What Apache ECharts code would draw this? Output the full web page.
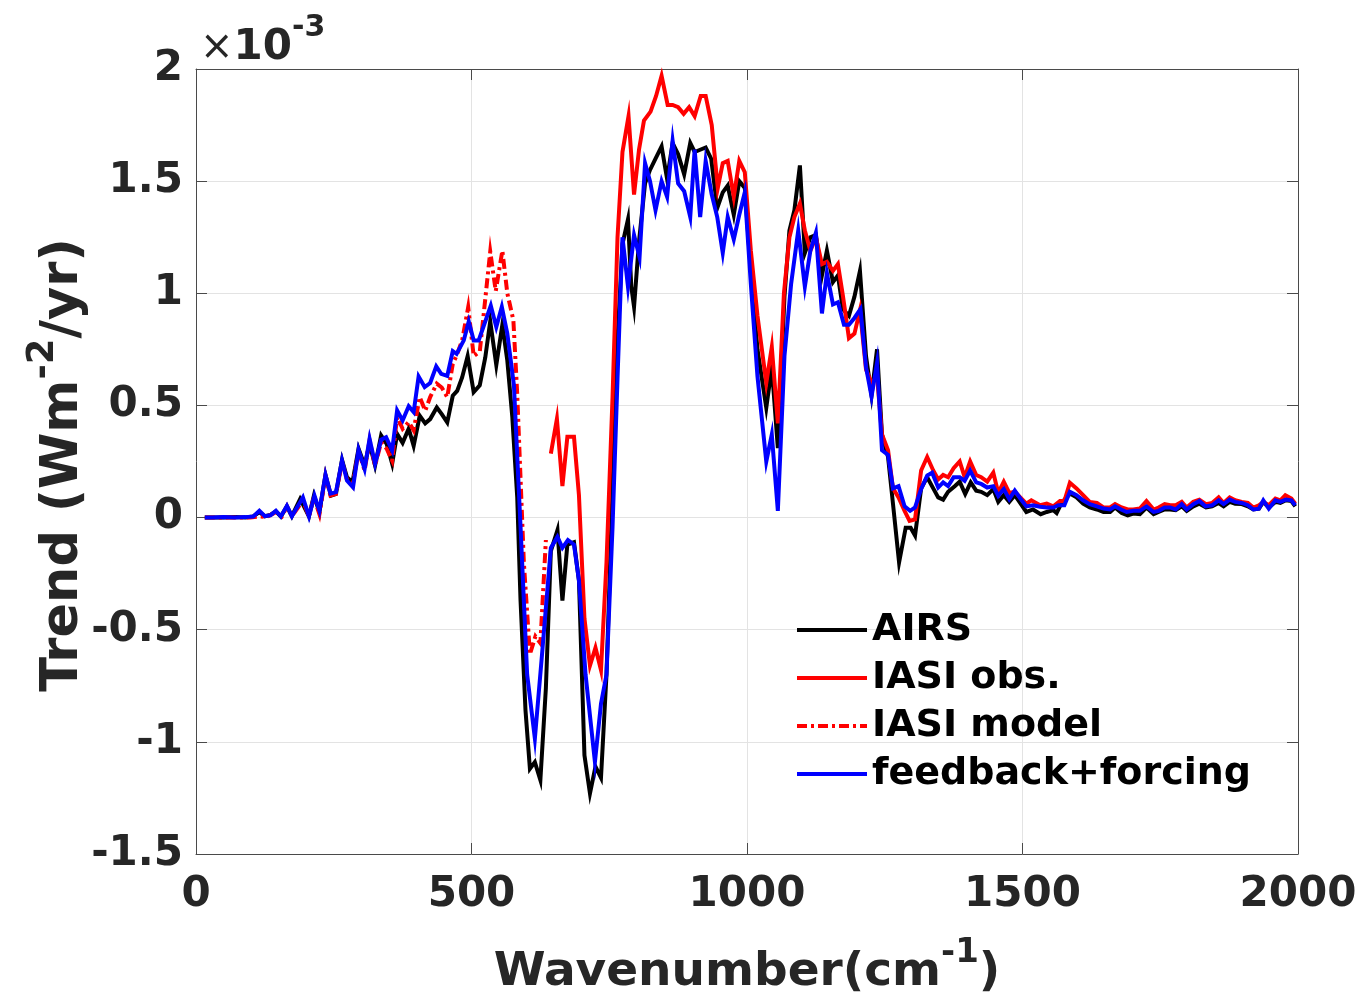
<!DOCTYPE html>
<html>
<head>
<meta charset="utf-8">
<title>Spectral trend</title>
<script src="https://cdn.jsdelivr.net/npm/echarts@6/dist/echarts.min.js"></script>
<style>
  html, body { margin: 0; padding: 0; background: #ffffff; }
  #chart { width: 1361px; height: 995px; }
</style>
</head>
<body>
<div id="chart"></div>
<script>
// Spectral trends, in units of 1e-3 W m^-2 / yr, against wavenumber (cm^-1)

const airsWn = [16, 30, 50, 70, 90, 104, 115, 125, 135, 145, 154, 165, 174, 189, 205, 214, 224, 235, 245, 254,
  265, 274, 284, 295, 306, 315, 325, 336, 346, 356, 365, 375, 386, 395, 406, 416, 425, 437, 446, 456,
  466, 474, 483, 493, 504, 515, 525, 534, 545, 556, 565, 574, 583, 589, 598, 606, 615, 625, 635, 644,
  656, 665, 674, 686, 695, 705, 715, 725, 735, 745, 756, 765, 774, 784, 790, 795, 804, 815, 824, 834,
  845, 855, 865, 875, 886, 897, 905, 915, 925, 935, 946, 956, 965, 976, 986, 996, 1007, 1019, 1035, 1045,
  1056, 1068, 1077, 1086, 1096, 1105, 1115, 1125, 1136, 1145, 1156, 1165, 1174, 1185, 1195, 1205, 1216, 1226, 1236, 1245,
  1256, 1265, 1276, 1288, 1297, 1305, 1316, 1327, 1338, 1347, 1356, 1365, 1377, 1386, 1396, 1406, 1416, 1425, 1436, 1447,
  1456, 1466, 1476, 1486, 1496, 1507, 1519, 1533, 1544, 1556, 1562, 1571, 1586, 1598, 1610, 1622, 1635, 1647, 1659, 1668,
  1680, 1691, 1701, 1713, 1725, 1738, 1747, 1758, 1768, 1778, 1789, 1798, 1810, 1821, 1833, 1844, 1856, 1865, 1876, 1886,
  1898, 1909, 1919, 1929, 1937, 1947, 1959, 1968, 1978, 1988, 1995];
const airsTrend = [0, 0, 0, 0.003, 0, 0.005, 0.024, 0.006, 0.012, 0.028, 0.005, 0.05, 0.006, 0.083, 0.005, 0.098, 0.024, 0.19, 0.098, 0.105,
  0.257, 0.18, 0.158, 0.307, 0.232, 0.329, 0.232, 0.366, 0.329, 0.24, 0.373, 0.333, 0.396, 0.32, 0.454, 0.42, 0.439, 0.491, 0.461, 0.424,
  0.543, 0.565, 0.625, 0.72, 0.56, 0.59, 0.714, 0.875, 0.68, 0.86, 0.70, 0.45, 0.09, -0.37, -0.86, -1.12, -1.09, -1.17, -0.76, -0.15,
  -0.056, -0.37, -0.12, -0.11, -0.28, -1.06, -1.23, -1.11, -1.16, -0.70, 0.13, 0.79, 1.22, 1.33, 1.03, 0.94, 1.23, 1.49, 1.55, 1.60,
  1.655, 1.51, 1.67, 1.62, 1.53, 1.67, 1.63, 1.64, 1.65, 1.60, 1.38, 1.45, 1.48, 1.35, 1.50, 1.47, 1.10, 0.75, 0.49, 0.67,
  0.31, 0.985, 1.28, 1.37, 1.57, 1.18, 1.25, 1.26, 1.08, 1.19, 1.05, 1.08, 0.93, 0.90, 0.985, 1.10, 0.72, 0.545, 0.75, 0.37,
  0.27, 0.06, -0.20, -0.045, -0.045, -0.08, 0.13, 0.18, 0.13, 0.09, 0.08, 0.115, 0.14, 0.16, 0.105, 0.157, 0.12, 0.115, 0.10, 0.127,
  0.07, 0.10, 0.07, 0.10, 0.065, 0.025, 0.036, 0.015, 0.025, 0.033, 0.02, 0.065, 0.107, 0.09, 0.062, 0.045, 0.036, 0.025, 0.025, 0.045,
  0.02, 0.01, 0.018, 0.015, 0.045, 0.015, 0.025, 0.036, 0.036, 0.033, 0.05, 0.03, 0.05, 0.062, 0.045, 0.05, 0.065, 0.05, 0.07, 0.062,
  0.06, 0.05, 0.036, 0.04, 0.07, 0.045, 0.07, 0.065, 0.077, 0.074, 0.05];

const iasiObsWn = [644, 655, 665, 674, 686, 695, 705, 715, 725, 735, 745, 756, 765, 774, 785, 795, 804, 813, 825, 835,
  845, 856, 865, 875, 885, 895, 905, 916, 925, 936, 947, 956, 965, 976, 986, 996, 1007, 1019, 1035, 1045,
  1056, 1067, 1077, 1086, 1096, 1105, 1115, 1125, 1136, 1145, 1156, 1165, 1174, 1185, 1195, 1205, 1216, 1226, 1236, 1245,
  1256, 1265, 1275, 1286, 1295, 1305, 1316, 1327, 1338, 1347, 1356, 1365, 1375, 1386, 1395, 1405, 1416, 1425, 1436, 1447,
  1456, 1466, 1476, 1486, 1496, 1507, 1516, 1532, 1544, 1556, 1568, 1576, 1586, 1598, 1610, 1622, 1635, 1647, 1659, 1668,
  1680, 1691, 1701, 1713, 1725, 1738, 1747, 1758, 1768, 1778, 1789, 1798, 1810, 1821, 1833, 1844, 1856, 1865, 1876, 1886,
  1898, 1909, 1919, 1929, 1937, 1947, 1959, 1968, 1977, 1988, 1995];
const iasiObsTrend = [0.285, 0.44, 0.14, 0.36, 0.36, 0.10, -0.45, -0.66, -0.58, -0.68, -0.20, 0.54, 1.25, 1.63, 1.79, 1.44, 1.64, 1.77, 1.81, 1.88,
  1.97, 1.84, 1.84, 1.83, 1.80, 1.83, 1.79, 1.88, 1.88, 1.75, 1.47, 1.58, 1.59, 1.43, 1.59, 1.54, 1.19, 0.90, 0.60, 0.76,
  0.42, 1.00, 1.25, 1.34, 1.40, 1.28, 1.19, 1.25, 1.13, 1.14, 1.10, 1.13, 0.99, 0.80, 0.82, 0.925, 0.66, 0.60, 0.63, 0.37,
  0.30, 0.13, 0.09, 0.03, -0.015, -0.008, 0.21, 0.27, 0.21, 0.17, 0.19, 0.18, 0.22, 0.25, 0.18, 0.25, 0.19, 0.18, 0.16, 0.20,
  0.11, 0.16, 0.11, 0.115, 0.09, 0.062, 0.077, 0.055, 0.062, 0.05, 0.074, 0.074, 0.155, 0.13, 0.10, 0.07, 0.065, 0.045, 0.045, 0.06,
  0.045, 0.036, 0.036, 0.04, 0.074, 0.036, 0.045, 0.06, 0.055, 0.055, 0.07, 0.045, 0.07, 0.08, 0.06, 0.065, 0.09, 0.065, 0.09, 0.077,
  0.07, 0.065, 0.045, 0.055, 0.07, 0.055, 0.085, 0.077, 0.10, 0.085, 0.062];

const iasiModelWn = [16, 30, 50, 70, 98, 116, 128, 145, 156, 165, 174, 194, 205, 214, 224, 235, 244, 254, 265, 274,
  284, 295, 306, 315, 325, 336, 346, 356, 365, 375, 386, 395, 406, 416, 425, 437, 446, 456, 466, 474,
  483, 494, 504, 515, 534, 544, 556, 565, 576, 583, 595, 606, 616, 625, 635];
const iasiModelTrend = [0, 0, 0, 0, 0, 0.005, 0.003, 0.024, 0.006, 0.05, 0.006, 0.076, 0.005, 0.09, 0.015, 0.185, 0.098, 0.105, 0.246, 0.17,
  0.14, 0.296, 0.21, 0.344, 0.232, 0.336, 0.307, 0.254, 0.448, 0.396, 0.426, 0.389, 0.537, 0.476, 0.537, 0.597, 0.58, 0.537, 0.685, 0.729,
  0.79, 0.938, 0.72, 0.74, 1.186, 1.01, 1.19, 1.00, 0.88, 0.55, -0.20, -0.61, -0.53, -0.56, -0.10];

const fbWn = [16, 30, 50, 70, 90, 104, 115, 125, 135, 145, 154, 165, 174, 194, 205, 215, 224, 235, 244, 254,
  265, 274, 285, 295, 306, 315, 325, 336, 345, 356, 365, 375, 386, 395, 404, 415, 425, 436, 445, 456,
  466, 473, 486, 495, 504, 513, 535, 545, 555, 565, 577, 589, 601, 615, 628, 644, 656, 665, 675, 686,
  695, 707, 724, 735, 745, 756, 765, 774, 784, 795, 805, 815, 824, 834, 845, 855, 865, 875, 886, 897,
  905, 915, 925, 936, 946, 956, 965, 976, 986, 996, 1007, 1019, 1035, 1045, 1056, 1068, 1080, 1093, 1105, 1115,
  1125, 1136, 1145, 1156, 1165, 1176, 1185, 1195, 1206, 1216, 1226, 1236, 1245, 1256, 1265, 1275, 1286, 1296, 1305, 1316,
  1327, 1336, 1347, 1356, 1365, 1375, 1386, 1395, 1405, 1416, 1425, 1436, 1447, 1456, 1466, 1476, 1486, 1496, 1507, 1519,
  1532, 1544, 1556, 1565, 1576, 1586, 1598, 1610, 1622, 1635, 1647, 1659, 1668, 1679, 1689, 1701, 1713, 1725, 1738, 1747,
  1758, 1768, 1778, 1789, 1798, 1810, 1821, 1832, 1844, 1856, 1865, 1876, 1886, 1898, 1909, 1919, 1929, 1937, 1947, 1959,
  1968, 1978, 1988, 1995];
const fbTrend = [0, 0, 0.002, 0, 0.002, 0.005, 0.03, 0.006, 0.01, 0.03, 0.005, 0.052, 0.006, 0.09, 0.005, 0.098, 0.03, 0.19, 0.107, 0.113,
  0.254, 0.165, 0.135, 0.302, 0.217, 0.351, 0.24, 0.347, 0.358, 0.299, 0.478, 0.433, 0.496, 0.47, 0.629, 0.582, 0.60, 0.674, 0.641, 0.632,
  0.742, 0.73, 0.79, 0.875, 0.79, 0.79, 0.945, 0.85, 0.94, 0.82, 0.59, -0.04, -0.70, -0.985, -0.61, -0.135, -0.086, -0.135, -0.10, -0.12,
  -0.28, -0.70, -1.09, -0.83, -0.70, -0.04, 0.62, 1.25, 1.03, 1.26, 1.16, 1.58, 1.50, 1.37, 1.50, 1.43, 1.68, 1.49, 1.455, 1.34,
  1.64, 1.34, 1.59, 1.44, 1.34, 1.18, 1.34, 1.24, 1.35, 1.45, 1.04, 0.63, 0.25, 0.37, 0.03, 0.72, 1.04, 1.28, 1.03, 1.19,
  1.27, 0.91, 1.09, 0.95, 0.96, 0.86, 0.86, 0.89, 0.93, 0.67, 0.54, 0.69, 0.30, 0.28, 0.13, 0.14, 0.05, 0.03, 0.045, 0.127,
  0.187, 0.20, 0.134, 0.157, 0.14, 0.18, 0.18, 0.164, 0.21, 0.157, 0.15, 0.134, 0.14, 0.097, 0.127, 0.082, 0.12, 0.085, 0.05, 0.055,
  0.048, 0.045, 0.045, 0.055, 0.055, 0.115, 0.10, 0.077, 0.06, 0.05, 0.04, 0.036, 0.05, 0.036, 0.025, 0.03, 0.03, 0.05, 0.025, 0.03,
  0.045, 0.045, 0.036, 0.06, 0.036, 0.06, 0.074, 0.05, 0.055, 0.077, 0.06, 0.08, 0.07, 0.065, 0.055, 0.036, 0.04, 0.077, 0.04, 0.077,
  0.07, 0.08, 0.077, 0.055];

const seriesNames = ['AIRS', 'IASI obs.', 'IASI model', 'feedback+forcing'];
const xTicks = [0, 500, 1000, 1500, 2000];
const yTicks = [-1.5, -1, -0.5, 0, 0.5, 1, 1.5, 2];

const FONT = '"DejaVu Sans", "Liberation Sans", sans-serif';
const INK = '#262626';
const FRAME = '#4a4a4a';
const GRID = '#e3e3e3';
const LINE_W = 4;

function pairs(xs, ys) {
  return xs.map((x, i) => [x, ys[i]]);
}

function lineSeries(name, xs, ys, color, type, z) {
  return {
    name: name,
    type: 'line',
    data: pairs(xs, ys),
    symbol: 'none',
    xAxisIndex: 0,
    yAxisIndex: 0,
    z: z,
    animation: false,
    lineStyle: { color: color, width: LINE_W, type: type, cap: 'butt', join: 'miter' },
    itemStyle: { color: color }
  };
}

const chart = echarts.init(document.getElementById('chart'), null, { renderer: 'canvas' });

const tickLabel = { fontFamily: FONT, fontWeight: 'bold', fontSize: 42, color: INK };

chart.setOption({
  backgroundColor: '#ffffff',
  animation: false,
  grid: { left: 196, right: 63, top: 69, bottom: 141, containLabel: false },
  xAxis: [
    {
      type: 'value', position: 'bottom', min: xTicks[0], max: xTicks[xTicks.length - 1], interval: 500,
      axisLine: { show: true, onZero: false, lineStyle: { color: FRAME, width: 1 } },
      axisTick: { show: true, inside: true, length: 11, lineStyle: { color: FRAME, width: 1 } },
      axisLabel: Object.assign({ margin: 20, formatter: (v) => String(v) }, tickLabel),
      splitLine: { show: true, lineStyle: { color: GRID, width: 1 } }
    },
    {
      type: 'value', position: 'top', min: xTicks[0], max: xTicks[xTicks.length - 1], interval: 500,
      axisLine: { show: true, onZero: false, lineStyle: { color: FRAME, width: 1 } },
      axisTick: { show: true, inside: true, length: 11, lineStyle: { color: FRAME, width: 1 } },
      axisLabel: { show: false },
      splitLine: { show: false }
    }
  ],
  yAxis: [
    {
      type: 'value', position: 'left', min: yTicks[0], max: yTicks[yTicks.length - 1], interval: 0.5,
      axisLine: { show: true, onZero: false, lineStyle: { color: FRAME, width: 1 } },
      axisTick: { show: true, inside: true, length: 11, lineStyle: { color: FRAME, width: 1 } },
      axisLabel: Object.assign({ margin: 13, formatter: (v) => String(v) }, tickLabel),
      splitLine: { show: true, lineStyle: { color: GRID, width: 1 } }
    },
    {
      type: 'value', position: 'right', min: yTicks[0], max: yTicks[yTicks.length - 1], interval: 0.5,
      axisLine: { show: true, onZero: false, lineStyle: { color: FRAME, width: 1 } },
      axisTick: { show: true, inside: true, length: 11, lineStyle: { color: FRAME, width: 1 } },
      axisLabel: { show: false },
      splitLine: { show: false }
    }
  ],
  legend: {
    orient: 'vertical',
    left: 795,
    top: 610,
    itemWidth: 70,
    itemHeight: 14,
    itemGap: 8,
    padding: 0,
    data: seriesNames,
    itemStyle: { opacity: 0 },
    lineStyle: { width: LINE_W },
    textStyle: { fontFamily: FONT, fontWeight: 'bold', fontSize: 38, color: '#000000', lineHeight: 40 }
  },
  series: [
    lineSeries(seriesNames[0], airsWn, airsTrend, '#000000', 'solid', 2),
    lineSeries(seriesNames[1], iasiObsWn, iasiObsTrend, '#ff0000', 'solid', 3),
    lineSeries(seriesNames[2], iasiModelWn, iasiModelTrend, '#ff0000', [10, 4, 3, 4], 4),
    lineSeries(seriesNames[3], fbWn, fbTrend, '#0000ff', 'solid', 5)
  ],
  graphic: [
    {
      type: 'text', left: 200, top: 13, z: 10,
      style: {
        text: '{x|×}{b|10}{s|-3}',
        rich: {
          x: { fontFamily: FONT, fontWeight: 'normal', fontSize: 40, fill: INK, lineHeight: 56, verticalAlign: 'bottom' },
          b: { fontFamily: FONT, fontWeight: 'bold', fontSize: 42, fill: INK, lineHeight: 56, verticalAlign: 'bottom' },
          s: { fontFamily: FONT, fontWeight: 'bold', fontSize: 30, fill: INK, lineHeight: 30, verticalAlign: 'top' }
        }
      }
    },
    {
      type: 'text', x: 747, y: 966, z: 10,
      style: {
        text: '{a|Wavenumber(cm}{s|-1}{a|)}',
        align: 'center', verticalAlign: 'middle',
        rich: {
          a: { fontFamily: FONT, fontWeight: 'bold', fontSize: 47, fill: INK, lineHeight: 60, verticalAlign: 'bottom' },
          s: { fontFamily: FONT, fontWeight: 'bold', fontSize: 34, fill: INK, lineHeight: 34, verticalAlign: 'top' }
        }
      }
    },
    {
      type: 'text', x: 57, y: 465, rotation: Math.PI / 2, z: 10,
      style: {
        text: '{a|Trend (Wm}{s|-2}{a|/yr)}',
        align: 'center', verticalAlign: 'middle',
        rich: {
          a: { fontFamily: FONT, fontWeight: 'bold', fontSize: 51, fill: INK, lineHeight: 64, verticalAlign: 'bottom' },
          s: { fontFamily: FONT, fontWeight: 'bold', fontSize: 37, fill: INK, lineHeight: 37, verticalAlign: 'top' }
        }
      }
    }
  ]
});
</script>
</body>
</html>
